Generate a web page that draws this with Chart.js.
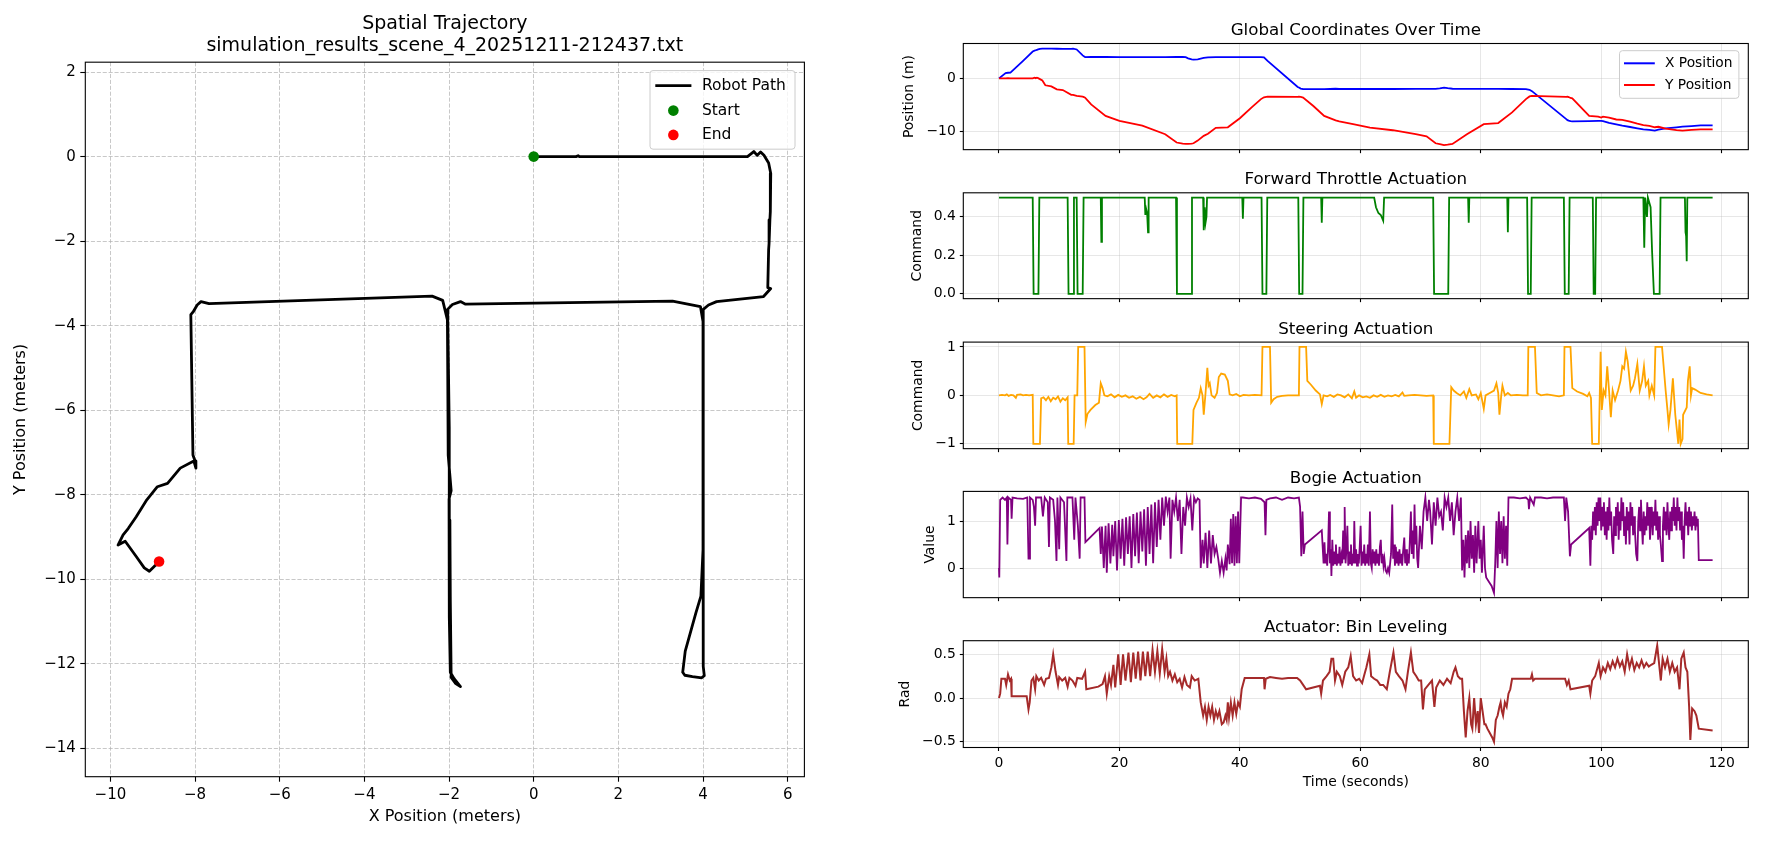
<!DOCTYPE html>
<html><head><meta charset="utf-8">
<script src="https://cdn.jsdelivr.net/npm/chart.js@4.4.1/dist/chart.umd.min.js"></script>
<style>
html,body{margin:0;padding:0;background:#fff;width:1772px;height:844px;overflow:hidden;}
canvas{position:absolute;}
</style></head><body>
<script>
// ---------------- DATA ----------------
// robot trajectory samples: [time s, x m, y m]
const trajectory = [
[0,0,0],[1.1,1.0,0.0],[1.5,1.05,0.02],[1.9,1.08,0.0],[4.0,3.3,0.0],[5.6,5.05,0.0],[5.9,5.2,0.12],[6.1,5.28,0.03],
[6.3,5.36,0.11],[6.5,5.44,0.03],[6.8,5.55,-0.15],[7.2,5.6,-0.4],[7.7,5.59,-1.3],[8.7,5.58,-1.5],[9.6,5.56,-2.06],
[10.6,5.55,-2.2],[12.0,5.53,-3.1],[12.3,5.6,-3.12],[12.9,5.43,-3.31],[13.9,4.32,-3.43],[14.1,4.13,-3.51],[14.3,4.0,-3.62],
[15.3,4.01,-4.9],[17.7,4.01,-7.06],[20.0,4.0,-8.0],[23.8,4.0,-8.9],[27.6,4.0,-10.5],[29.5,4.01,-12.06],[30.5,4.03,-12.28],
[31.0,3.97,-12.33],[31.4,3.75,-12.3],[32.0,3.57,-12.27],[32.3,3.52,-12.2],[33.0,3.58,-11.7],[34.0,3.83,-10.8],
[34.7,3.95,-10.4],[36.0,4.0,-9.3],[38.0,4.0,-9.2],[40.0,4.0,-7.5],[42.0,4.0,-5.4],[43.5,4.0,-3.9],[44.0,3.94,-3.55],
[44.6,3.28,-3.42],[49.6,-1.61,-3.49],[49.8,-1.73,-3.43],[50.1,-1.92,-3.5],[50.5,-2.04,-3.62],[52.2,-2.03,-5.2],
[54.0,-2.02,-7.06],[55.9,-1.95,-7.9],[56.5,-2.0,-8.1],[58.8,-2.0,-8.6],[61.6,-2.0,-9.25],[65.4,-2.0,-9.75],
[69.2,-1.99,-10.5],[71.0,-1.98,-10.9],[72.5,-1.97,-12.2],[73.2,-1.88,-12.35],[73.9,-1.73,-12.54],[74.5,-1.85,-12.46],
[75.3,-1.95,-12.32],[77.7,-1.97,-10.5],[80.5,-1.98,-8.6],[82.9,-1.99,-8.4],[85.2,-2.0,-6.4],[87.5,-2.03,-3.9],
[88.1,-2.15,-3.4],[88.5,-2.4,-3.3],[94.2,-7.67,-3.48],[94.4,-7.86,-3.43],[94.6,-7.95,-3.51],[94.9,-8.05,-3.68],
[95.2,-8.1,-3.74],[98.0,-8.05,-7.06],[99.5,-8.0,-7.2],[100.0,-7.98,-7.37],[100.3,-8.03,-7.2],[101.3,-8.35,-7.37],
[102.5,-8.65,-7.73],[103.5,-8.89,-7.81],[104.8,-9.14,-8.12],[106.0,-9.39,-8.52],[107.0,-9.58,-8.8],[108.0,-9.7,-8.95],
[108.9,-9.82,-9.19],[109.5,-9.65,-9.1],[110.7,-9.39,-9.46],[112.5,-9.2,-9.73],[113.5,-9.08,-9.81],[115.0,-8.96,-9.69],
[116.5,-8.84,-9.6],[118.5,-8.85,-9.58]
];
const posT = trajectory.map(r => r[0]);
const posX = trajectory.map(r => r[1]);
const posY = trajectory.map(r => r[2]);

// forward throttle command: [time, value]
const throttle = [
[0,0.5],[5.6,0.5],[5.75,0],[6.55,0],[6.7,0.5],[11.4,0.5],[11.55,0],[12.3,0],[12.45,0.5],[12.9,0.5],[13.05,0],[13.9,0],[14.05,0.5],
[16.9,0.5],[17.0,0.27],[17.1,0.5],[24.2,0.5],[24.3,0.41],[24.45,0.44],[24.6,0.42],[24.75,0.32],[24.85,0.5],
[29.4,0.5],[29.55,0],[31.9,0],[32.05,0.5],[33.9,0.5],[34.0,0.33],[34.15,0.45],[34.3,0.37],[34.45,0.4],[34.55,0.5],
[40.4,0.5],[40.5,0.39],[40.6,0.5],[43.6,0.5],[43.75,0],[44.4,0],[44.55,0.5],[49.7,0.5],[49.85,0],[50.4,0],[50.55,0.5],
[53.5,0.5],[53.6,0.37],[53.7,0.5],[62.3,0.5],[62.6,0.45],[63.0,0.42],[63.4,0.41],[63.8,0.38],[63.95,0.5],
[72.1,0.5],[72.25,0],[74.6,0],[74.75,0.5],[77.9,0.5],[78.0,0.37],[78.1,0.5],[84.4,0.5],[84.5,0.32],[84.6,0.5],
[87.7,0.5],[87.85,0],[88.3,0],[88.45,0.5],[93.8,0.5],[93.95,0],[94.6,0],[94.75,0.5],[98.6,0.5],[98.75,0],[99.0,0],[99.15,0.5],
[107.0,0.5],[107.15,0.24],[107.3,0.5],[107.6,0.4],[107.75,0.5],[108.2,0.45],[108.45,0.22],[108.75,0],[109.7,0],[109.85,0.5],
[113.9,0.5],[114.0,0.32],[114.1,0.3],[114.2,0.17],[114.3,0.5],[118.5,0.5]
];

// steering command: [time, value]
const steering = [
[0,0],[0.5,0.01],[1.0,0],[1.3,0.02],[1.6,-0.01],[2.0,0.01],[2.4,0],[2.8,-0.05],[3.0,0.01],[3.6,0.02],[4.0,0],[4.5,0.01],[5.0,0],[5.6,0.01],
[5.7,-1],[6.8,-1],[7.0,-0.06],[7.4,-0.04],[7.8,-0.1],[8.2,-0.03],[8.6,-0.12],[9.0,-0.05],[9.4,-0.08],[9.8,-0.02],[10.2,-0.13],[10.6,-0.06],
[11.0,-0.1],[11.4,-0.04],[11.5,-1],[12.4,-1],[12.55,0],[13.0,0],[13.15,1],[14.2,1],[14.4,-0.55],[14.7,-0.38],[15.2,-0.3],[16.0,-0.2],
[16.6,-0.15],[16.9,0.25],[17.2,0.15],[17.5,0],[18.0,-0.02],[18.6,0.02],[19.2,-0.04],[19.8,0.01],[20.4,-0.03],[21.0,0],[21.6,-0.05],
[22.2,-0.02],[22.8,-0.07],[23.4,-0.03],[24.0,-0.08],[24.5,-0.04],[25.0,0.03],[25.6,-0.05],[26.2,0],[26.8,-0.04],[27.4,0.02],[28.0,-0.03],
[28.6,0.01],[29.2,-0.02],[29.5,0],[29.6,-1],[32.1,-1],[32.3,-0.3],[32.8,-0.15],[33.2,-0.05],[33.5,0.15],[33.8,0],[34.0,-0.4],[34.3,0.05],
[34.6,0.57],[34.8,0.2],[35.0,0.25],[35.3,0],[35.8,-0.05],[36.2,0.05],[36.5,0.38],[36.9,0.45],[37.5,0.43],[38.0,0.3],[38.3,0.02],[38.8,0],
[39.4,0.03],[40.0,-0.02],[40.6,0.01],[41.5,0],[42.5,0.01],[43.6,0],[43.75,1],[45.0,1],[45.2,-0.15],[45.6,-0.08],[46.2,-0.03],[47.0,-0.01],
[48.0,0],[49.8,0],[49.9,1],[51.0,1],[51.2,0.3],[51.8,0.22],[52.6,0.1],[53.3,0.02],[53.6,-0.18],[53.9,0],[54.5,-0.02],[55.0,0.01],
[55.6,-0.03],[56.2,0.02],[56.8,0],[57.4,-0.04],[58.0,0.02],[58.6,-0.06],[59.0,0.08],[59.3,-0.05],[59.8,0],[60.4,-0.04],[61.0,-0.02],
[61.6,-0.05],[62.2,0],[62.8,-0.03],[63.4,0.01],[64.0,-0.03],[64.6,0],[65.2,-0.02],[65.8,0.01],[66.4,-0.02],[67.0,0.06],[67.3,-0.01],
[68.0,0],[69.0,0.01],[70.0,0],[71.0,-0.01],[72.1,0],[72.2,-1],[74.8,-1],[75.1,0.17],[75.5,0.1],[76.0,0.05],[76.6,0],[77.2,0.08],
[77.6,-0.05],[78.1,0.13],[78.5,0],[79.2,0.02],[79.6,-0.08],[80.0,0.05],[80.5,-0.28],[80.8,0],[81.5,0.05],[82.2,0.1],[82.6,0.25],
[82.9,0.05],[83.1,-0.4],[83.4,0],[83.6,0.2],[84.0,0],[84.5,0.05],[85.0,0],[86.0,0.01],[87.0,0],[87.8,0],[87.9,1],[89.0,1],[89.3,0.05],
[90.0,0],[91.0,0.02],[92.0,0],[93.0,-0.02],[93.8,0],[93.9,1],[94.9,1],[95.2,0.15],[96.0,0.08],[97.0,0.03],[97.7,-0.02],[98.0,0.05],
[98.3,-0.05],[98.5,-1],[99.6,-1],[99.9,0.9],[100.1,-0.3],[100.4,0.1],[100.7,0],[101.0,0.6],[101.3,0.1],[101.6,-0.45],[101.9,0.1],
[102.3,-0.1],[102.8,0.1],[103.2,0.3],[103.5,0.6],[103.8,0.55],[104.1,0.9],[104.4,0.7],[104.9,0.1],[105.3,0.2],[105.6,0.35],[106.0,0.65],
[106.4,0.1],[106.8,0.3],[107.1,0.6],[107.4,0.2],[107.8,0.3],[108.0,0],[108.4,0.2],[108.8,0],[109.0,1],[110.1,1],[110.3,0.7],[110.7,0.1],
[111.0,-0.3],[111.2,-0.6],[111.5,-0.3],[111.9,0.35],[112.3,-0.4],[112.8,-1],[113.0,-0.5],[113.2,-1],[113.5,-0.9],[113.6,-0.4],
[114.2,-0.25],[114.4,0.3],[114.7,0.6],[114.9,0],[115.1,0.15],[115.6,0.12],[116.5,0.05],[117.5,0.02],[118.5,0]
];

// bogie actuation: [time, value]
const bogie = [
[0,0.0],[0.05,-0.2],[0.2,1.45],[0.6,1.5],[1.0,1.45],[1.3,1.5],[1.4,0.5],[1.55,1.5],[2.0,1.45],[2.1,1.05],[2.25,1.5],[3.0,1.48],[4.0,1.47],
[4.7,1.5],[4.9,0.2],[5.05,0.2],[5.15,1.5],[5.6,1.45],[5.8,1.3],[6.0,0.9],[6.15,1.5],[7.0,1.5],[7.3,1.1],[7.6,1.5],[8.1,1.4],[8.3,0.45],
[8.45,1.5],[9.0,1.45],[9.3,1.0],[9.55,0.15],[9.7,1.5],[10.0,0.4],[10.2,1.5],[10.8,1.4],[11.2,0.15],[11.35,1.5],[12.2,1.5],[12.5,0.6],
[12.7,1.5],[13.1,0.9],[13.4,0.2],[13.55,1.5],[14.2,1.5],[14.35,0.55],[16.7,0.85],
[16.9,0.3],[17.1,0.88],[17.4,0.0],[17.7,0.9],[17.9,-0.1],[18.2,0.95],[18.5,0.1],[18.8,0.92],[19.0,0.25],[19.3,1.0],[19.6,-0.05],
[19.9,1.02],[20.2,0.2],[20.5,1.05],[20.8,0.05],[21.1,1.08],[21.4,0.3],[21.7,1.1],[22.0,0.0],[22.3,1.15],[22.6,0.25],[22.9,1.18],
[23.2,0.1],[23.5,1.2],[23.8,0.35],[24.1,1.25],[24.4,0.05],[24.7,1.3],[25.0,0.3],[25.3,1.35],[25.6,0.1],[25.9,1.4],[26.2,0.45],
[26.5,1.45],[26.8,0.6],[27.1,1.5],[27.4,0.9],[27.7,1.52],[28.0,1.2],[28.3,1.5],[28.5,0.2],[28.8,1.45],[29.1,1.2],[29.4,1.5],
[29.7,1.0],[30.0,1.45],[30.3,0.3],[30.6,1.3],[30.9,0.9],[31.2,1.5],[31.5,1.3],[31.8,1.48],[32.1,0.8],[32.4,1.5],[32.7,1.4],[33.0,1.48],
[33.3,1.45],[33.5,0.0],[33.8,0.6],[34.0,0.1],[34.3,0.75],[34.6,0.0],[34.9,0.8],[35.2,0.1],[35.5,0.7],[35.8,0.3],[36.1,0.45],[36.4,0.2],
[36.7,-0.1],[37.0,0.15],[37.3,-0.1],[37.6,0.2],[37.8,-0.05],[38.0,0.5],[38.3,0.08],[38.5,1.05],[38.7,0.1],[38.9,1.15],[39.1,0.05],
[39.3,1.1],[39.5,0.1],[39.7,1.2],[39.9,0.1],[40.2,1.5],[40.5,1.5],[41.5,1.48],[42.5,1.5],[43.5,1.47],[44.1,1.4],[44.25,0.7],[44.4,1.45],
[45.0,1.48],[46.0,1.5],[47.0,1.45],[48.0,1.5],[49.0,1.48],[49.8,1.5],[50.0,1.3],[50.2,0.25],[50.4,1.2],[50.6,0.3],[50.8,0.5],[53.6,0.8],
[53.9,0.1],[54.05,0.55],[54.2,0.1],[54.35,0.3],[54.5,0.05],[54.65,0.45],[54.8,1.2],[54.95,0.1],[55.1,0.4],[55.2,-0.17],[55.35,0.6],
[55.5,0.05],[55.65,0.35],[55.8,0.1],[55.95,0.5],[56.1,0.05],[56.25,0.3],[56.4,0.1],[56.55,0.45],[56.7,0.05],[56.85,0.25],[57.0,0.1],
[57.15,0.8],[57.3,0.2],[57.4,1.3],[57.55,0.1],[57.7,0.4],[57.85,0.9],[58.0,0.05],[58.15,0.35],[58.3,0.1],[58.45,0.5],[58.6,0.05],
[58.75,0.3],[58.9,0.1],[59.0,1.0],[59.15,0.1],[59.3,0.4],[59.45,0.05],[59.6,0.3],[59.75,0.1],[59.9,0.45],[60.05,0.9],[60.2,0.05],
[60.35,0.35],[60.5,0.1],[60.65,0.5],[60.8,0.05],[60.95,0.3],[61.1,0.1],[61.25,0.5],[61.4,0.05],[61.6,1.2],[61.75,0.1],[61.9,0.0],
[62.05,0.4],[62.2,0.1],[62.35,0.35],[62.5,0.05],[62.65,0.4],[62.8,0.1],[62.95,0.3],[63.1,0.05],[63.25,0.45],[63.4,0.6],[63.55,0.1],
[63.7,0.3],[63.85,0.05],[64.0,0.2],[64.2,-0.05],[64.4,-0.1],[64.6,0.0],[64.8,-0.1],[64.95,0.1],[65.1,0.3],[65.3,1.35],[65.45,0.2],
[65.6,0.5],[65.75,0.05],[65.9,0.45],[66.05,0.1],[66.2,0.35],[66.35,0.05],[66.5,0.4],[66.65,0.1],[66.8,0.3],[66.95,0.05],[67.1,0.35],
[67.3,0.65],[67.45,0.1],[67.6,0.4],[67.75,0.05],[67.9,0.3],[68.05,0.1],[68.2,0.5],[68.4,1.2],[68.55,0.3],[68.7,0.8],[68.85,0.2],
[69.0,1.35],[69.15,0.5],[69.3,0.9],[69.45,0.2],[69.6,0.0],[69.9,0.9],[70.2,0.4],[70.5,1.2],
[70.8,1.5],[71.1,1.0],[71.4,1.45],[71.6,1.2],[71.9,0.5],[72.2,1.4],[72.5,0.9],[72.8,1.5],[73.1,1.1],[73.4,1.2],[73.7,0.8],[74.0,1.5],
[74.3,1.3],[74.6,1.5],[74.9,1.0],[75.2,1.4],[75.5,0.7],[75.8,1.2],[76.1,1.5],[76.4,1.0],[76.7,1.5],[76.9,-0.05],[77.1,0.6],[77.3,-0.2],
[77.5,0.7],[77.7,0.1],[77.9,0.8],[78.1,0.0],[78.3,1.0],[78.5,0.2],[78.7,0.7],[78.9,-0.1],[79.1,0.9],[79.3,0.1],[79.6,1.0],[79.8,0.2],
[80.0,0.6],[80.2,-0.1],[80.5,0.9],[80.7,0.0],[80.9,-0.2],[81.4,-0.3],[81.8,-0.38],[82.2,-0.53],[82.4,0.1],[82.6,1.0],[82.8,0.0],
[83.0,1.2],[83.2,0.3],[83.4,1.0],[83.6,0.1],[83.8,1.1],[84.0,0.2],[84.2,0.9],[84.4,0.05],[84.6,1.5],[85.5,1.5],[86.5,1.48],[87.5,1.5],
[87.9,1.45],[88.0,1.25],[88.2,1.5],[88.8,1.35],[89.0,1.5],[90.0,1.5],[91.0,1.48],[92.0,1.5],[93.0,1.5],[93.8,1.5],[94.0,1.0],[94.2,1.5],
[94.5,1.2],[94.8,0.25],[95.0,0.5],[98.0,0.85],
[98.2,0.05],[98.35,0.9],[98.5,0.6],[98.65,1.2],[98.8,0.8],[98.95,1.3],[99.1,0.7],[99.25,1.4],[99.4,0.9],[99.55,1.5],[99.7,1.0],
[99.85,1.5],[100.0,0.8],[100.15,1.3],[100.3,0.9],[100.45,1.4],[100.6,0.7],[100.75,1.2],[100.9,0.6],[101.05,1.3],[101.2,0.8],[101.35,1.5],
[101.5,0.9],[101.65,1.2],[101.8,0.6],[102.0,0.3],[102.15,1.1],[102.3,0.7],[102.45,1.3],[102.6,0.9],[102.75,1.4],[102.9,0.6],[103.05,1.2],
[103.2,0.8],[103.35,1.5],[103.5,1.0],[103.65,1.4],[103.8,0.7],[103.95,1.1],[104.1,0.5],[104.25,1.3],[104.4,0.8],[104.55,1.2],[104.7,0.5],
[104.85,1.4],[105.0,0.9],[105.15,1.3],[105.3,0.7],[105.45,1.1],[105.6,0.8],[105.8,0.3],[106.0,0.15],[106.15,1.0],[106.3,1.3],[106.45,0.8],
[106.6,1.45],[106.75,0.9],[106.9,0.5],[107.05,1.2],[107.2,0.7],[107.35,1.1],[107.5,0.8],[107.65,1.4],[107.8,0.9],[107.95,1.3],[108.1,0.6],
[108.25,1.0],[108.4,1.3],[108.55,0.7],[108.7,1.2],[108.85,0.9],[109.0,1.45],[109.15,0.8],[109.3,1.2],[109.45,0.6],[109.6,1.1],[109.75,0.7],
[109.9,0.5],[110.1,0.15],[110.25,0.9],[110.4,1.3],[110.55,0.8],[110.7,1.2],[110.85,0.7],[111.0,1.4],[111.15,0.9],[111.3,0.6],[111.45,1.2],
[111.6,0.8],[111.75,1.3],[111.9,1.0],[112.05,1.5],[112.2,0.9],[112.35,1.3],[112.5,0.8],[112.65,1.5],[112.8,1.0],[112.95,1.3],[113.1,0.8],
[113.25,1.2],[113.4,0.6],[113.55,0.9],[113.7,0.2],[113.85,1.0],[114.0,1.4],[114.15,0.9],[114.3,1.2],[114.45,0.7],[114.6,1.3],[114.75,0.9],
[114.9,1.2],[115.05,0.8],[115.2,1.1],[115.35,0.9],[115.5,1.2],[115.65,0.8],[115.8,1.1],[115.95,0.9],[116.05,1.05],[116.2,0.17],[118.5,0.17]
];

// bin leveling actuator angle (rad): [time, value]
const binLevel = [
[0,0.0],[0.2,0.05],[0.4,0.22],[1.0,0.22],[1.2,0.15],[1.5,0.27],[1.8,0.2],[2.0,0.22],[2.1,0.02],[4.6,0.02],[4.9,-0.13],[5.1,-0.05],
[5.4,0.2],[5.7,0.23],[6.0,0.1],[6.2,0.25],[6.6,0.2],[7.0,0.23],[7.5,0.15],[7.8,0.22],[8.3,0.23],[8.7,0.35],[9.0,0.5],[9.4,0.3],
[9.8,0.15],[10.0,0.24],[10.5,0.2],[11.0,0.23],[11.4,0.13],[11.7,0.23],[12.2,0.2],[12.7,0.14],[13.0,0.23],[13.8,0.22],[14.3,0.3],
[14.5,0.1],[16.5,0.13],[17.2,0.16],[17.6,0.25],[17.9,0.05],[18.3,0.25],[18.6,0.15],[19.0,0.38],[19.3,0.12],[19.8,0.5],[20.2,0.15],
[20.6,0.5],[21.0,0.2],[21.5,0.52],[21.9,0.18],[22.3,0.52],[22.7,0.22],[23.1,0.53],[23.5,0.2],[23.9,0.53],[24.3,0.25],[24.7,0.53],
[25.1,0.25],[25.5,0.55],[25.9,0.3],[26.3,0.54],[26.7,0.28],[27.1,0.56],[27.5,0.3],[27.8,0.45],[28.1,0.25],[28.4,0.3],[28.8,0.2],
[29.2,0.27],[29.6,0.18],[30.0,0.22],[30.4,0.12],[30.8,0.24],[31.2,0.15],[31.7,0.12],[32.0,0.25],[32.5,0.2],[33.1,0.22],[33.5,-0.05],
[33.9,-0.2],[34.2,-0.1],[34.5,-0.25],[34.8,-0.1],[35.1,-0.2],[35.4,-0.1],[35.7,-0.25],[36.0,-0.15],[36.3,-0.22],[36.6,-0.15],[37.0,-0.3],
[37.3,-0.28],[37.6,-0.2],[37.8,-0.25],[38.0,-0.05],[38.2,-0.22],[38.5,-0.05],[38.8,-0.2],[39.1,-0.05],[39.4,-0.18],[39.7,-0.05],
[40.0,-0.1],[40.3,0.1],[40.8,0.23],[44.0,0.23],[44.1,0.1],[44.3,0.22],[45.0,0.24],[46.0,0.23],[47.0,0.22],[48.0,0.23],[49.5,0.23],
[50.0,0.2],[50.5,0.15],[51.0,0.1],[53.3,0.14],[53.5,0.05],[53.8,0.2],[54.4,0.25],[54.9,0.3],[55.2,0.45],[55.5,0.45],[55.8,0.2],
[56.1,0.3],[56.6,0.25],[57.0,0.15],[57.5,0.3],[58.0,0.35],[58.4,0.48],[58.8,0.25],[59.3,0.2],[59.8,0.22],[60.3,0.17],[60.6,0.25],
[61.0,0.35],[61.5,0.5],[61.8,0.25],[62.3,0.22],[62.8,0.2],[63.3,0.15],[63.8,0.15],[64.4,0.1],[64.9,0.3],[65.5,0.52],[65.9,0.3],
[66.4,0.25],[67.0,0.2],[67.5,0.1],[67.9,0.3],[68.4,0.52],[68.8,0.3],[69.3,0.25],[69.7,0.2],[70.1,0.2],[70.4,-0.13],[70.7,0.1],
[71.3,0.15],[71.9,0.2],[72.3,-0.1],[72.6,0.12],[73.2,0.2],[73.8,0.15],[74.4,0.22],[75.0,0.17],[75.5,0.3],[75.8,0.35],[76.2,0.25],
[76.6,0.22],[76.9,0.22],[77.2,-0.15],[77.5,-0.45],[77.8,-0.15],[78.1,0.0],[78.4,-0.3],[78.6,-0.35],[78.9,0.0],[79.2,-0.3],[79.5,-0.15],
[79.7,-0.4],[80.0,0.0],[80.3,-0.15],[80.6,-0.3],[80.8,-0.3],[81.1,-0.35],[81.5,-0.4],[81.9,-0.45],[82.2,-0.5],[82.5,-0.25],[82.8,-0.2],
[83.1,-0.1],[83.3,-0.05],[83.5,-0.15],[83.7,-0.2],[84.0,-0.05],[84.3,-0.1],[84.6,0.05],[84.9,0.1],[85.2,0.22],[88.3,0.22],[88.5,0.27],
[88.7,0.2],[89.0,0.22],[90.0,0.22],[92.0,0.22],[94.0,0.22],[94.3,0.15],[94.6,0.2],[94.9,0.1],[98.0,0.14],[98.2,0.05],[98.5,0.2],
[99.0,0.25],[99.6,0.4],[99.9,0.25],[100.3,0.35],[100.7,0.3],[101.1,0.4],[101.5,0.33],[101.9,0.42],[102.3,0.35],[102.7,0.45],[103.1,0.36],
[103.5,0.42],[103.9,0.3],[104.3,0.5],[104.7,0.35],[105.1,0.45],[105.5,0.32],[105.9,0.4],[106.3,0.35],[106.7,0.43],[107.1,0.35],
[107.5,0.4],[107.9,0.36],[108.3,0.38],[108.8,0.4],[109.3,0.6],[109.9,0.2],[110.2,0.45],[110.6,0.35],[111.0,0.45],[111.4,0.3],
[111.8,0.4],[112.2,0.3],[112.6,0.35],[113.0,0.1],[113.3,0.45],[113.7,0.52],[114.0,0.35],[114.3,0.3],[114.6,-0.1],[114.8,-0.48],
[115.1,-0.12],[115.5,-0.15],[115.8,-0.2],[116.2,-0.35],[118.5,-0.37]
];

// tick values
const trajXTicks = [-10,-8,-6,-4,-2,0,2,4,6];
const trajYTicks = [-14,-12,-10,-8,-6,-4,-2,0,2];
const timeTicks = [0,20,40,60,80,100,120];
const posTicks = [-10,0];
const throttleTicks = [0.0,0.2,0.4];
const steerTicks = [-1,0,1];
const bogieTicks = [0,1];
const binTicks = [-0.5,0.0,0.5];

// ---------------- RENDERING ----------------
Chart.defaults.font.family = "'DejaVu Sans', sans-serif";
Chart.defaults.color = '#000';

const fmtTick = dec => v => (v < 0 ? '\u2212' : '') + Math.abs(v).toFixed(dec);
const fixedTicks = vals => scale => { scale.ticks = vals.map(v => ({value: v})); };
const pairs = arr => arr.map(r => ({x: r[0], y: r[1]}));

const framePlugin = {
  id: 'frame',
  afterDatasetsDraw(chart) {
    const {ctx, chartArea: a} = chart;
    ctx.save();
    ctx.strokeStyle = '#000';
    ctx.lineWidth = 1.1;
    ctx.strokeRect(a.left, a.top, a.right - a.left, a.bottom - a.top);
    ctx.restore();
  }
};
const legendPlugin = {
  id: 'mplLegend',
  afterDraw(chart, args, o) {
    if (!o || !o.items) return;
    const {ctx, chartArea: a} = chart;
    const x0 = a.right - o.inset[0] - o.w, y0 = a.top + o.inset[1];
    ctx.save();
    const r = 3;
    ctx.beginPath();
    ctx.moveTo(x0 + r, y0);
    ctx.arcTo(x0 + o.w, y0, x0 + o.w, y0 + o.h, r);
    ctx.arcTo(x0 + o.w, y0 + o.h, x0, y0 + o.h, r);
    ctx.arcTo(x0, y0 + o.h, x0, y0, r);
    ctx.arcTo(x0, y0, x0 + o.w, y0, r);
    ctx.closePath();
    ctx.fillStyle = 'rgba(255,255,255,0.8)';
    ctx.fill();
    ctx.strokeStyle = '#cccccc';
    ctx.lineWidth = 1;
    ctx.stroke();
    ctx.font = o.fontSize + "px 'DejaVu Sans', sans-serif";
    ctx.textBaseline = 'middle';
    ctx.textAlign = 'left';
    o.items.forEach((it, i) => {
      const ds = chart.data.datasets[it.ds];
      const y = y0 + o.rows[i];
      if (it.kind === 'line') {
        ctx.strokeStyle = ds.borderColor;
        ctx.lineWidth = it.width;
        ctx.beginPath();
        ctx.moveTo(x0 + o.sample[0], y);
        ctx.lineTo(x0 + o.sample[1], y);
        ctx.stroke();
      } else {
        ctx.fillStyle = ds.pointBackgroundColor;
        ctx.beginPath();
        ctx.arc(x0 + (o.sample[0] + o.sample[1]) / 2, y, it.r, 0, Math.PI * 2);
        ctx.fill();
      }
      ctx.fillStyle = '#000';
      ctx.fillText(ds.label, x0 + o.textX, y);
    });
    ctx.restore();
  }
};
Chart.register(framePlugin, legendPlugin);

function makeCanvas(left, top, w, h) {
  const c = document.createElement('canvas');
  c.width = w; c.height = h;
  c.style.left = left + 'px'; c.style.top = top + 'px';
  c.style.width = w + 'px'; c.style.height = h + 'px';
  document.body.appendChild(c);
  return c;
}

// ---- Left: spatial trajectory ----
(function () {
  const W = 860, H = 844;
  const area = {left: 85.3, right: 804.4, top: 62.3, bottom: 776.7};
  const padL = 11.4, padB = 17.7, padT = 13.1;
  const c = makeCanvas(0, 0, W, H);
  const gridL = {color: 'rgba(176,176,176,0.7)', lineWidth: 1, tickColor: '#000', tickWidth: 1.1, tickLength: 5};
  new Chart(c, {
    type: 'line',
    data: {
      datasets: [
        {label: 'Start', data: [{x: posX[0], y: posY[0]}], showLine: false, pointRadius: 5.3,
         pointBackgroundColor: '#008000', pointBorderWidth: 0, borderColor: '#008000', order: 1},
        {label: 'End', data: [{x: posX[posX.length - 1], y: posY[posY.length - 1]}], showLine: false, pointRadius: 5.3,
         pointBackgroundColor: '#ff0000', pointBorderWidth: 0, borderColor: '#ff0000', order: 1},
        {label: 'Robot Path', data: posX.map((x, i) => ({x, y: posY[i]})), borderColor: '#000', borderWidth: 2.8,
         pointRadius: 0, tension: 0, fill: false, order: 2, borderJoinStyle: 'round', borderCapStyle: 'round'}
      ]
    },
    options: {
      responsive: false, animation: false, devicePixelRatio: 1, events: [],
      layout: {padding: {left: padL, right: W - area.right, top: padT, bottom: padB}},
      plugins: {
        legend: {display: false}, tooltip: {enabled: false},
        title: {display: true, fullSize: false, align: 'center',
          text: ['Spatial Trajectory', 'simulation_results_scene_4_20251211-212437.txt'],
          font: {size: 19, weight: 'normal', lineHeight: 1.147}, color: '#000', padding: {top: 0, bottom: 5.5}},
        mplLegend: {w: 145, h: 78.6, inset: [9.4, 8.4], rows: [15, 40, 64.3], sample: [5.3, 41.4], textX: 51.9, fontSize: 15.5,
          items: [{ds: 2, kind: 'line', width: 2.8}, {ds: 0, kind: 'point', r: 5.3}, {ds: 1, kind: 'point', r: 5.3}]}
      },
      scales: {
        x: {type: 'linear', position: 'bottom', min: -10.593, max: 6.395,
          afterBuildTicks: fixedTicks(trajXTicks),
          afterFit: s => { s.height = (H - padB) - area.bottom; },
          ticks: {callback: fmtTick(0), font: {size: 15}, padding: 4.8, maxRotation: 0, autoSkip: false, color: '#000'},
          grid: gridL, border: {display: false, dash: [4.1, 1.8]},
          title: {display: true, text: 'X Position (meters)', font: {size: 16, lineHeight: 1.2}, padding: 0, color: '#000'}},
        y: {type: 'linear', position: 'left', min: -14.67, max: 2.234,
          afterBuildTicks: fixedTicks(trajYTicks),
          afterFit: s => { s.width = area.left - padL; },
          ticks: {callback: fmtTick(0), font: {size: 15}, padding: 4.5, autoSkip: false, color: '#000'},
          grid: gridL, border: {display: false, dash: [4.1, 1.8]},
          title: {display: true, text: 'Y Position (meters)', font: {size: 16, lineHeight: 1.2}, padding: 0, color: '#000'}}
      }
    }
  });
})();

// ---- Right: time series stack ----
const RX = 880, RW = 892;
const rArea = {left: 963.3, right: 1748.3};
const plotTops = [43.5, 192.8, 342.1, 491.4, 640.7];
const plotH = 106.8;
const RGRID = {color: 'rgba(176,176,176,0.3)', lineWidth: 1, tickColor: '#000', tickWidth: 1.1, tickLength: 3.5};

const panels = [
  {title: 'Global Coordinates Over Time', ylabel: 'Position (m)', labelX: 909, ymin: -13.4, ymax: 6.55, ticks: posTicks, dec: 0,
   datasets: [
     {label: 'X Position', data: posT.map((t, i) => ({x: t, y: posX[i]})), borderColor: '#0000ff', order: 2},
     {label: 'Y Position', data: posT.map((t, i) => ({x: t, y: posY[i]})), borderColor: '#ff0000', order: 1}],
   legend: {w: 119.4, h: 47.6, inset: [9.4, 7.2], rows: [12.6, 34.3], sample: [4.5, 35.3], textX: 45.5, fontSize: 13.8,
     items: [{ds: 0, kind: 'line', width: 2}, {ds: 1, kind: 'line', width: 2}]}},
  {title: 'Forward Throttle Actuation', ylabel: 'Command', labelX: 917, ymin: -0.025, ymax: 0.525, ticks: throttleTicks, dec: 1,
   datasets: [{label: 'Throttle', data: pairs(throttle), borderColor: '#008000'}]},
  {title: 'Steering Actuation', ylabel: 'Command', labelX: 918.5, ymin: -1.1, ymax: 1.1, ticks: steerTicks, dec: 0,
   datasets: [{label: 'Steering', data: pairs(steering), borderColor: '#ffa500'}]},
  {title: 'Bogie Actuation', ylabel: 'Value', labelX: 930, ymin: -0.63, ymax: 1.63, ticks: bogieTicks, dec: 0,
   datasets: [{label: 'Bogie', data: pairs(bogie), borderColor: '#800080'}]},
  {title: 'Actuator: Bin Leveling', ylabel: 'Rad', labelX: 905, ymin: -0.565, ymax: 0.655, ticks: binTicks, dec: 1,
   datasets: [{label: 'Bin', data: pairs(binLevel), borderColor: '#a52a2a', borderWidth: 2}]}
];

panels.forEach((p, i) => {
  const last = i === panels.length - 1;
  const cTop = Math.floor(plotTops[i] - 43);
  const titleRegion = plotTops[i] - cTop;
  const cH = last ? (844 - cTop) : 162;
  const areaBottomRel = titleRegion + plotH;
  const titleCenter = titleRegion - 12.8;
  const titleLH = 16.7 * 1.2;
  let padB, xH;
  if (last) {
    const scaleBottom = (782.5 - cTop) + 8.4;
    padB = cH - scaleBottom;
    xH = scaleBottom - areaBottomRel;
  } else {
    padB = 0;
    xH = cH - areaBottomRel;
  }
  const padL = p.labelX - RX - 8.4;
  const c = makeCanvas(RX, cTop, RW, cH);
  p.datasets.forEach(d => { d.borderWidth = d.borderWidth || 1.8; d.pointRadius = 0; d.tension = 0; d.fill = false; });
  new Chart(c, {
    type: 'line',
    data: {datasets: p.datasets},
    options: {
      responsive: false, animation: false, devicePixelRatio: 1, events: [],
      layout: {padding: {left: padL, right: RX + RW - rArea.right, top: 0, bottom: padB}},
      plugins: {
        legend: {display: false}, tooltip: {enabled: false},
        title: {display: true, fullSize: false, text: p.title, font: {size: 16.7, weight: 'normal', lineHeight: 1.2}, color: '#000',
          padding: {top: titleCenter - titleLH / 2, bottom: titleRegion - titleCenter - titleLH / 2}},
        mplLegend: p.legend || {}
      },
      scales: {
        x: {type: 'linear', position: 'bottom', min: -5.925, max: 124.425,
          afterBuildTicks: fixedTicks(timeTicks),
          afterFit: s => { s.height = xH; },
          ticks: {display: last, callback: fmtTick(0), font: {size: 13.9}, padding: 4.3, maxRotation: 0, autoSkip: false, color: '#000'},
          grid: RGRID, border: {display: false},
          title: {display: last, text: 'Time (seconds)', font: {size: 13.9, lineHeight: 1.2}, padding: 0, color: '#000'}},
        y: {type: 'linear', position: 'left', min: p.ymin, max: p.ymax,
          afterBuildTicks: fixedTicks(p.ticks),
          afterFit: s => { s.width = (rArea.left - RX) - padL; },
          ticks: {callback: fmtTick(p.dec), font: {size: 13.9}, padding: 4, autoSkip: false, color: '#000'},
          grid: RGRID, border: {display: false},
          title: {display: true, text: p.ylabel, font: {size: 13.9, lineHeight: 1.2}, padding: 0, color: '#000'}}
      }
    }
  });
});
</script>
</body></html>
